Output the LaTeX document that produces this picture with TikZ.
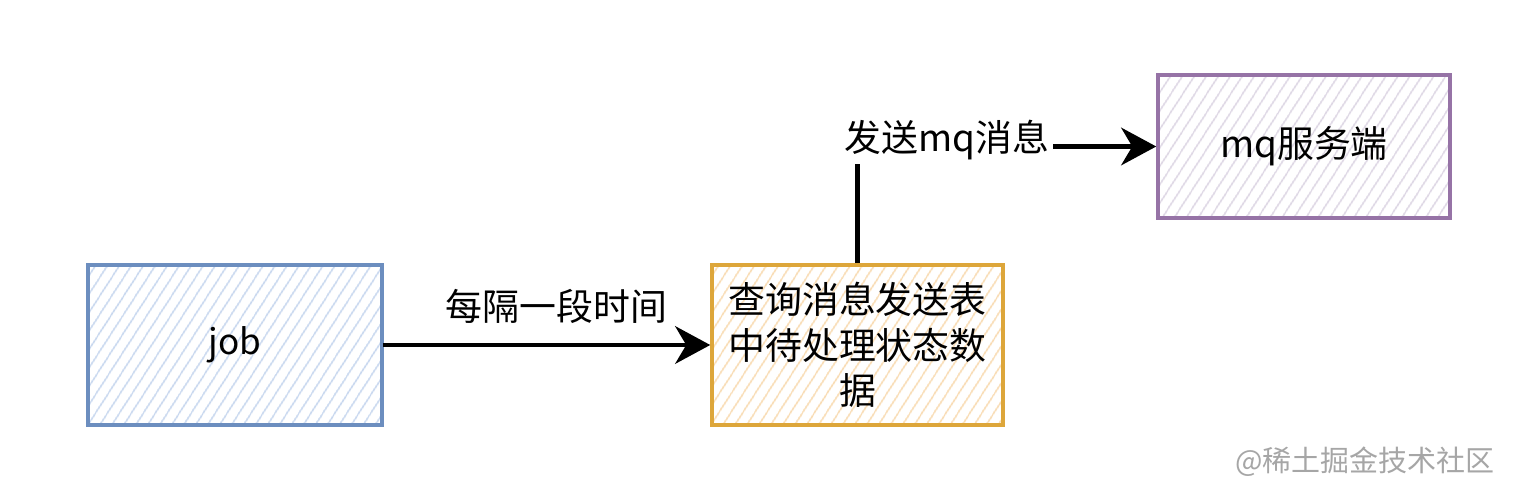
\documentclass[tikz,border=0pt]{standalone}
\usepackage{fontspec}
\newfontfamily\cjk{Noto Sans CJK SC}
\usepackage{tikz}
\usetikzlibrary{arrows.meta}
\usetikzlibrary{patterns.meta}

\definecolor{jobline}{HTML}{6C8EBF}
\definecolor{jobhatch}{HTML}{C6D6EE}
\definecolor{qline}{HTML}{DDA63A}
\definecolor{qhatch}{HTML}{F8DAB0}
\definecolor{mqline}{HTML}{9673A6}
\definecolor{mqhatch}{HTML}{DCD5E3}

\begin{document}
\begin{tikzpicture}[
  sketchbox/.style={draw, line width=2pt, align=center, font=\cjk\fontsize{21}{26}\selectfont,
    pattern={Lines[angle=57,distance=5.4pt,line width=1pt]}},
  flow/.style={line width=2.8pt, -{Stealth[length=0.7cm,width=0.75cm,inset=0.22cm]}},
  flowtext/.style={font=\cjk\fontsize{21}{26}\selectfont, inner sep=2pt}
]
\useasboundingbox (0,0) rectangle (30.64,9.96);

% left one
\node[sketchbox, draw=jobline, pattern color=jobhatch, minimum width=5.88cm, minimum height=3.2cm,
  font=\cjk\fontsize{20}{24}\selectfont] (job) at (4.70,3.06) {job};

% middle one
\node[sketchbox, draw=qline, pattern color=qhatch, minimum width=5.82cm, minimum height=3.2cm] (query) at (17.15,3.06)
  {查询消息发送表\\中待处理状态数\\据};

% right one
\node[sketchbox, draw=mqline, pattern color=mqhatch, minimum width=5.84cm, minimum height=2.86cm] (mq) at (26.08,7.03) {mq服务端};

% arrows
\draw[flow] (job) -- node[above=0.3cm, flowtext, xshift=0.2cm] {每隔一段时间} (query);
\draw[flow] (query) |- node[pos=0.65, flowtext, fill=white, yshift=0.12cm] {发送mq消息} (mq);

%\draw[gray] (0,0) rectangle (30.64,9.96);
\node[text=gray!70, font=\cjk\fontsize{16.5}{20}\selectfont] (mark) at (27.30,0.72) {@稀土掘金技术社区};

\end{tikzpicture}
\end{document}
